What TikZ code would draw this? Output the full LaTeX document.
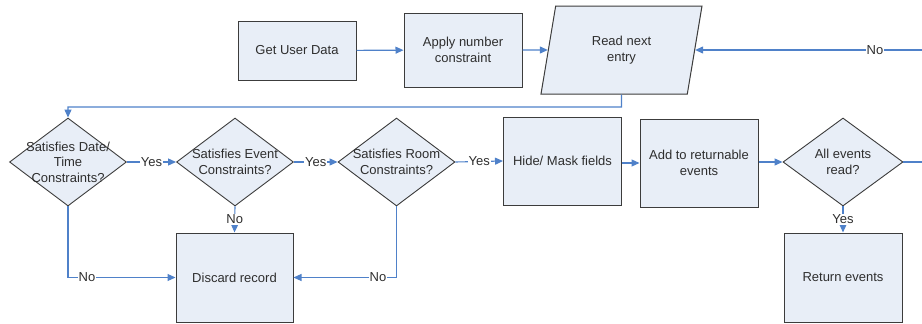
\documentclass[tikz,border=0pt]{standalone}
\usepackage{fontspec}
\setmainfont{Liberation Sans}
\usetikzlibrary{shapes.geometric,arrows.meta}
\definecolor{boxfill}{HTML}{E8EEF7}
\definecolor{boxline}{HTML}{3C3C3C}
\definecolor{flowline}{HTML}{4F81C9}
\tikzset{
  txt/.style={font=\fontsize{13}{15.5}\selectfont, text=black!82, align=center},
  procbox/.style={draw=boxline, fill=boxfill, line width=1pt, inner sep=0pt,
    minimum width=118pt, minimum height=88pt, txt},
  decide/.style={draw=boxline, fill=boxfill, line width=0.9pt, diamond, inner sep=0pt,
    minimum width=117pt, minimum height=88pt},
  iobox/.style={draw=boxline, fill=boxfill, line width=1pt, trapezium,
    trapezium left angle=62, trapezium right angle=118, trapezium stretches body,
    inner sep=0pt, minimum width=161pt, minimum height=88pt, txt},
  flow/.style={draw=flowline, line width=1.1pt, -{Triangle[length=8pt,width=7pt]}},
  lbl/.style={txt, fill=white, inner sep=1pt}
}
\begin{document}
\begin{tikzpicture}[x=1pt,y=-1pt]
\useasboundingbox (0,0) rectangle (922,324);

% top row
\node[procbox, minimum width=118pt, minimum height=59pt] (get) at (297,50.5) {Get User Data};
\node[procbox, minimum height=74pt] (apply) at (463,50) {Apply number\\constraint};
\node[iobox] (read) at (621.5,50) {Read next\\entry};

% checks on each entry
\node[decide] (dt) at (68,162) {};
\node[txt] at (dt.center) {Satisfies Date/\\Time\\Constraints?};
\node[decide] (ev) at (235,162) {};
\node[txt] at (ev.center) {Satisfies Event\\Constraints?};
\node[decide] (rm) at (396.5,162) {};
\node[txt] at (rm.center) {Satisfies Room\\Constraints?};
\node[procbox] (hide) at (562.5,161) {Hide/ Mask fields};
\node[procbox] (add) at (699,163) {Add to returnable\\events};
\node[decide, minimum width=120pt] (all) at (843,162) {};
\node[txt] at (all.center) {All events\\read?};

% outcomes
\node[procbox, minimum width=117pt, minimum height=89pt] (discard) at (234.5,277.5) {Discard record};
\node[procbox, minimum height=89pt] (ret) at (843,277.5) {Return events};

% connectors
\draw[flow] (get) -- (apply);
\draw[flow] (apply) -- (read.west);
\coordinate (loop) at (935,162);
\draw[flow] (all.east) -- (loop) |- (read.east);
\node[lbl] at (875,50) {No};

\coordinate (split) at (621.5,107);
\draw[flow] (read.south) -- (split) -| (dt.north);

\draw[flow] (dt.east) -- node[lbl]{Yes} (ev.west);
\draw[flow] (ev.east) -- node[lbl]{Yes} (rm.west);
\draw[flow] (rm.east) -- node[lbl]{Yes} (hide.west);
\draw[flow] (hide.east |- add.west) -- (add.west);
\draw[flow] (add.east |- all.west) -- (all.west);

\draw[flow] (dt.south) |- (discard.west);
\node[lbl] at (87,277.5) {No};
\draw[flow] (ev.south) -- node[lbl]{No} (discard.north);
\draw[flow] (rm.south) |- (discard.east);
\node[lbl] at (378,277.5) {No};
\draw[flow] (all.south) -- node[lbl]{Yes} (ret.north);
\end{tikzpicture}
\end{document}
